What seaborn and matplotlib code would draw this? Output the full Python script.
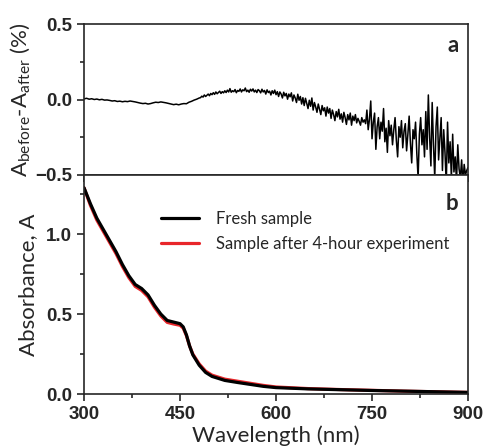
import numpy as np
import pandas as pd
import matplotlib
matplotlib.use("Agg")
import matplotlib.pyplot as plt
from matplotlib.ticker import MultipleLocator
import seaborn as sns

# panel a: difference spectrum
# 4 nm steps up to 480 nm, 2 nm steps in the noisy part after that
diff_wl = np.concatenate([np.arange(300, 481, 4), np.arange(482, 901, 2)])
diff_vals = [
    0.004, 0.008, 0.002, 0.005, 0.000, 0.003, -0.002, 0.001, -0.004, -0.003,
    -0.006, -0.010, -0.008, -0.013, -0.011, -0.015, -0.012, -0.014, -0.010, -0.013,
    -0.016, -0.020, -0.024, -0.027, -0.025, -0.030, -0.027, -0.022, -0.018, -0.020,
    -0.016, -0.019, -0.022, -0.026, -0.030, -0.034, -0.031, -0.035, -0.030, -0.027,
    -0.028, -0.018, -0.012, -0.004, 0.002, 0.010,
    # 482 - 900 nm
    0.012, 0.022, 0.016, 0.030, 0.020, 0.028, 0.036, 0.025, 0.040, 0.032,
    0.045, 0.034, 0.050, 0.038, 0.046, 0.055, 0.040, 0.052, 0.044, 0.058,
    0.046, 0.062, 0.050, 0.072, 0.048, 0.058, 0.052, 0.066, 0.045, 0.060,
    0.054, 0.070, 0.050, 0.064, 0.058, 0.076, 0.052, 0.062, 0.048, 0.068,
    0.056, 0.070, 0.050, 0.062, 0.046, 0.066, 0.058, 0.044, 0.068, 0.050,
    0.060, 0.036, 0.064, 0.046, 0.055, 0.030, 0.058, 0.040, 0.062, 0.032,
    0.052, 0.020, 0.050, 0.036, 0.010, 0.048, 0.024, 0.040, 0.002, 0.036,
    0.018, 0.044, -0.010, 0.030, 0.010, -0.020, 0.035, -0.005, 0.020, -0.030,
    0.012, -0.040, 0.008, -0.025, -0.060, -0.005, -0.045, 0.010, -0.070, -0.020,
    -0.050, -0.085, -0.030, -0.065, -0.100, -0.040, -0.075, -0.055, -0.110, -0.050,
    -0.090, -0.060, -0.125, -0.070, -0.100, -0.140, -0.080, -0.115, -0.065, -0.130,
    -0.095, -0.150, -0.085, -0.120, -0.165, -0.100, -0.135, -0.090, -0.170, -0.110,
    -0.140, -0.100, -0.155, -0.125, -0.145, -0.170, -0.120, -0.150, -0.135, -0.160,
    -0.070, -0.200, -0.130, -0.010, -0.260, -0.150, -0.090, -0.330, -0.180, -0.120,
    -0.260, -0.150, -0.210, -0.060, -0.280, -0.190, -0.350, -0.140, -0.240, -0.170,
    -0.300, -0.200, -0.120, -0.270, -0.380, -0.180, -0.250, -0.140, -0.320, -0.210,
    -0.160, -0.340, -0.230, -0.110, -0.290, -0.420, -0.200, -0.260, -0.150, -0.360,
    -0.520, -0.230, -0.120, -0.300, -0.200, -0.380, -0.080, -0.330, 0.030, -0.250,
    -0.440, -0.020, -0.300, -0.520, -0.180, -0.050, -0.400, -0.260, -0.120, -0.470,
    -0.200, -0.350, -0.560, -0.150, -0.420, -0.280, -0.520, -0.230, -0.480, -0.380,
    -0.540, -0.300, -0.460, -0.520, -0.400, -0.560, -0.430, -0.500, -0.470, -0.450,
]

# panel b: absorbance spectra
abs_wl = [300, 310, 320, 330, 340, 350, 360, 370, 380, 390, 400, 410, 420, 430,
          440, 450, 455, 460, 465, 470, 480, 490, 500, 520, 540, 560, 580, 600,
          650, 700, 750, 800, 850, 900]
fresh = [1.29, 1.19, 1.10, 1.03, 0.96, 0.89, 0.81, 0.74, 0.685, 0.66, 0.62, 0.555,
         0.50, 0.46, 0.45, 0.44, 0.42, 0.37, 0.30, 0.245, 0.18, 0.135, 0.11, 0.085,
         0.072, 0.060, 0.048, 0.040, 0.032, 0.027, 0.022, 0.018, 0.014, 0.010]
after = [1.29, 1.18, 1.088, 1.018, 0.948, 0.878, 0.798, 0.728, 0.673, 0.648, 0.608,
         0.543, 0.488, 0.448, 0.438, 0.430, 0.412, 0.365, 0.300, 0.250, 0.188, 0.143,
         0.118, 0.093, 0.080, 0.067, 0.054, 0.044, 0.034, 0.028, 0.023, 0.018, 0.014, 0.010]

df_diff = pd.DataFrame({"wl": diff_wl, "d": diff_vals})
df_abs = pd.DataFrame({"wl": abs_wl, "fresh": fresh, "after": after})

sns.set_style("ticks")
plt.rcParams["font.family"] = ["Liberation Sans", "DejaVu Sans"]
plt.rcParams["mathtext.fontset"] = "custom"
plt.rcParams["mathtext.rm"] = "Lato"
plt.rcParams["mathtext.it"] = "Lato"
plt.rcParams["axes.linewidth"] = 1.2
plt.rcParams["xtick.major.width"] = 1.2
plt.rcParams["ytick.major.width"] = 1.2
plt.rcParams["xtick.minor.width"] = 1.2
plt.rcParams["ytick.minor.width"] = 1.2

fig = plt.figure(figsize=(4.84, 4.48), dpi=100)
ax_a = fig.add_axes([0.1736, 0.6094, 0.7934, 0.3370])
ax_b = fig.add_axes([0.1736, 0.1205, 0.7934, 0.4889])

lab_font = {"family": "Lato", "size": 16}
tick_size = 13.5

# panel a
sns.lineplot(data=df_diff, x="wl", y="d", ax=ax_a, color="black", linewidth=1.1)
ax_a.set_xlim(300, 900)
ax_a.set_ylim(-0.5, 0.5)
ax_a.xaxis.set_major_locator(MultipleLocator(100))
ax_a.tick_params(axis="x", labelbottom=False, length=5, direction="out")
ax_a.yaxis.set_major_locator(MultipleLocator(0.5))
ax_a.yaxis.set_minor_locator(MultipleLocator(0.25))
ax_a.tick_params(axis="y", which="major", length=5, labelsize=tick_size)
ax_a.tick_params(axis="y", which="minor", length=3)
ax_a.set_xlabel("")
ax_a.set_ylabel(r"A$_{\mathrm{before}}$-A$_{\mathrm{after}}$ (%)", fontdict=lab_font, labelpad=2)
ax_a.text(0.975, 0.86, "a", transform=ax_a.transAxes, ha="right", va="center",
          fontsize=16, fontweight="bold", family="Lato")

# panel b
sns.lineplot(data=df_abs, x="wl", y="after", ax=ax_b, color="#e8262a", linewidth=2.3,
             label="Sample after 4-hour experiment")
sns.lineplot(data=df_abs, x="wl", y="fresh", ax=ax_b, color="black", linewidth=2.3,
             label="Fresh sample")
ax_b.set_xlim(300, 900)
ax_b.set_ylim(0, 1.37)
ax_b.xaxis.set_major_locator(MultipleLocator(150))
ax_b.xaxis.set_minor_locator(MultipleLocator(75))
ax_b.yaxis.set_major_locator(MultipleLocator(0.5))
ax_b.yaxis.set_minor_locator(MultipleLocator(0.25))
ax_b.tick_params(which="major", length=5, labelsize=tick_size)
ax_b.tick_params(which="minor", length=3)
ax_b.set_xlabel("Wavelength (nm)", fontdict=lab_font, labelpad=2)
ax_b.set_ylabel("Absorbance, A", fontdict=lab_font, labelpad=6)
ax_b.text(0.975, 0.87, "b", transform=ax_b.transAxes, ha="right", va="center",
          fontsize=16, fontweight="bold", family="Lato")

handles, labels = ax_b.get_legend_handles_labels()
ax_b.legend(handles[::-1], labels[::-1], loc="upper left", bbox_to_anchor=(0.2, 0.835),
            frameon=False, handlelength=2.3, handletextpad=1.0, labelspacing=0.55,
            prop={"family": "Lato", "size": 12}, borderaxespad=0, borderpad=0)

for ax in (ax_a, ax_b):
    for lbl in ax.get_xticklabels() + ax.get_yticklabels():
        lbl.set_fontweight("bold")

fig.savefig("out.png", dpi=100)
